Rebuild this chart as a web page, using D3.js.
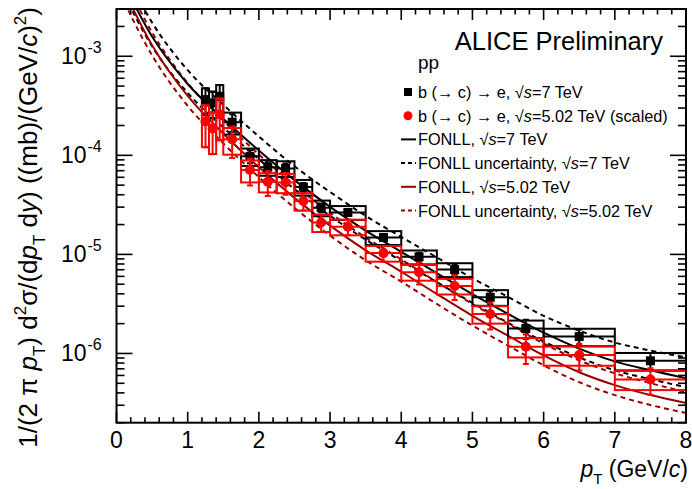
<!DOCTYPE html>
<html>
<head>
<meta charset="utf-8">
<script src="https://cdn.jsdelivr.net/npm/d3@7"></script>
<style>
  body { margin: 0; background: #fff; }
  svg text { font-family: "Liberation Sans", Arial, sans-serif; fill: #000; }
</style>
</head>
<body>
<div id="canvas"></div>
<script>
// bins (pT, GeV/c)
var binLo = [1.2, 1.3, 1.4, 1.5, 1.75, 2, 2.25, 2.5, 2.75, 3, 3.5, 4, 4.5, 5, 5.5, 6, 7];
var binHi = [1.3, 1.4, 1.5, 1.75, 2, 2.25, 2.5, 2.75, 3, 3.5, 4, 4.5, 5, 5.5, 6, 7, 8];

// b(->c)->e cross sections, 7 TeV and 5.02 TeV (scaled)
var val7 = [3.65e-4, 3.38e-4, 3.94e-4, 2.16e-4, 9.76e-5, 7.58e-5, 7.38e-5, 4.78e-5, 2.96e-5, 2.65e-5, 1.48e-5, 9.44e-6, 7.02e-6, 3.69e-6, 1.79e-6, 1.48e-6, 8.43e-7];
var stat7 = [0.3, 0.3, 0.3, 0.2, 0.15, 0.12, 0.12, 0.1, 0.1, 0.08, 0.08, 0.1, 0.12, 0.15, 0.22, 0.18, 0.2];
var sys7 = [0.3, 0.3, 0.3, 0.25, 0.2, 0.18, 0.18, 0.18, 0.18, 0.16, 0.16, 0.16, 0.16, 0.18, 0.2, 0.2, 0.2];
var val502 = [2.2e-4, 1.87e-4, 2.58e-4, 1.45e-4, 7.1e-5, 5.41e-5, 5.32e-5, 3.46e-5, 2.10e-5, 1.90e-5, 1.03e-5, 6.62e-6, 4.80e-6, 2.50e-6, 1.17e-6, 9.64e-7, 5.47e-7];
var stat502 = [0.45, 0.45, 0.45, 0.35, 0.3, 0.28, 0.25, 0.2, 0.2, 0.18, 0.18, 0.25, 0.28, 0.3, 0.33, 0.3, 0.3];
var sys502 = [0.45, 0.45, 0.45, 0.3, 0.25, 0.22, 0.22, 0.2, 0.2, 0.18, 0.18, 0.18, 0.18, 0.2, 0.22, 0.22, 0.22];

// FONLL curves
var fonllPt = [0, 0.5, 1, 1.5, 2, 2.5, 3, 3.5, 4, 4.5, 5, 5.5, 6, 6.5, 7, 7.5, 8];
var fonll7 = [7.59e-3, 1.58e-3, 5.25e-4, 2.34e-4, 1.12e-4, 5.62e-5, 3.02e-5, 1.74e-5, 1.06e-5, 6.46e-6, 3.98e-6, 2.51e-6, 1.62e-6, 1.12e-6, 8.32e-7, 6.76e-7, 5.62e-7];
var fonll7Up = [1.05e-2, 2.19e-3, 7.24e-4, 3.24e-4, 1.55e-4, 7.76e-5, 4.27e-5, 2.45e-5, 1.50e-5, 9.33e-6, 5.75e-6, 3.72e-6, 2.40e-6, 1.70e-6, 1.29e-6, 1.07e-6, 9.12e-7];
var fonll7Lo = [6.03e-3, 1.26e-3, 4.27e-4, 1.91e-4, 9.12e-5, 4.57e-5, 2.45e-5, 1.41e-5, 8.61e-6, 5.25e-6, 3.24e-6, 2.04e-6, 1.32e-6, 9.12e-7, 6.76e-7, 5.50e-7, 4.57e-7];
var fonll502 = [6.76e-3, 1.29e-3, 3.98e-4, 1.66e-4, 7.59e-5, 3.72e-5, 1.95e-5, 1.10e-5, 6.68e-6, 3.98e-6, 2.40e-6, 1.51e-6, 9.55e-7, 6.46e-7, 4.79e-7, 3.80e-7, 3.16e-7];
var fonll502Up = [9.12e-3, 1.74e-3, 5.37e-4, 2.24e-4, 1.02e-4, 5.01e-5, 2.63e-5, 1.48e-5, 8.91e-6, 5.25e-6, 3.16e-6, 2.00e-6, 1.26e-6, 8.51e-7, 6.31e-7, 5.01e-7, 4.07e-7];
var fonll502Lo = [5.13e-3, 1.02e-3, 3.16e-4, 1.32e-4, 6.03e-5, 2.95e-5, 1.55e-5, 8.71e-6, 5.31e-6, 3.16e-6, 1.91e-6, 1.20e-6, 7.59e-7, 5.13e-7, 3.80e-7, 3.02e-7, 2.51e-7];

var xTicks = [0, 1, 2, 3, 4, 5, 6, 7, 8];
var yTicks = [1e-6, 1e-5, 1e-4, 1e-3];

var W = 692, H = 489;
var m = {t: 9, r: 6, b: 66.3, l: 116.5};
var w = W - m.l - m.r, h = H - m.t - m.b;
var darkRed = '#990000';

var svg = d3.select('#canvas').append('svg')
    .attr('width', W).attr('height', H);

var plot = svg.append('g')
    .attr('transform', 'translate(' + m.l + ',' + m.t + ')');

var x = d3.scaleLinear().domain([0, 8]).range([0, w]);
var y = d3.scaleLog().domain([2e-7, 3e-3]).range([h, 0]);

plot.append('clipPath').attr('id', 'clip')
    .append('rect').attr('width', w).attr('height', h);

// FONLL curves
var line = d3.line()
    .x(function(d){ return x(d[0]); })
    .y(function(d){ return y(d[1]); })
    .curve(d3.curveMonotoneX);

var curves = [
    {v: fonll7Up, c: '#000', dash: '5,4'},
    {v: fonll7Lo, c: '#000', dash: '5,4'},
    {v: fonll502Up, c: darkRed, dash: '5,4'},
    {v: fonll502Lo, c: darkRed, dash: '5,4'},
    {v: fonll7, c: '#000', dash: null},
    {v: fonll502, c: darkRed, dash: null}
];
var cg = plot.append('g').attr('clip-path', 'url(#clip)');
curves.forEach(function(cv){
    cg.append('path')
        .attr('d', line(fonllPt.map(function(p, i){ return [p, cv.v[i]]; })))
        .attr('fill', 'none')
        .attr('stroke', cv.c)
        .attr('stroke-width', 2)
        .attr('stroke-dasharray', cv.dash);
});

// data points: boxes (syst), x bars, stat bars, markers
function drawSeries(vals, stat, sys, col, marker) {
    var g = plot.append('g').attr('clip-path', 'url(#clip)');
    vals.forEach(function(v, i){
        var x0 = x(binLo[i]), x1 = x(binHi[i]);
        var xc = x((binLo[i] + binHi[i]) / 2);
        g.append('rect')
            .attr('x', x0).attr('width', x1 - x0)
            .attr('y', y(v * (1 + sys[i])))
            .attr('height', y(v * (1 - sys[i])) - y(v * (1 + sys[i])))
            .attr('fill', 'none').attr('stroke', col).attr('stroke-width', 2);
        g.append('line')
            .attr('x1', x0).attr('x2', x1).attr('y1', y(v)).attr('y2', y(v))
            .attr('stroke', col).attr('stroke-width', 2);
        var yHi = y(v * (1 + stat[i])), yLo = y(v * (1 - stat[i]));
        g.append('line')
            .attr('x1', xc).attr('x2', xc).attr('y1', yHi).attr('y2', yLo)
            .attr('stroke', col).attr('stroke-width', 2);
        [yHi, yLo].forEach(function(yy){
            g.append('line')
                .attr('x1', xc - 3).attr('x2', xc + 3).attr('y1', yy).attr('y2', yy)
                .attr('stroke', col).attr('stroke-width', 2);
        });
        if (marker === 'square') {
            g.append('rect').attr('x', xc - 4.5).attr('y', y(v) - 4.5)
                .attr('width', 9).attr('height', 9).attr('fill', col);
        } else {
            g.append('circle').attr('cx', xc).attr('cy', y(v)).attr('r', 5).attr('fill', col);
        }
    });
}
drawSeries(val7, stat7, sys7, '#000', 'square');
drawSeries(val502, stat502, sys502, '#ff0000', 'circle');

// frame and ticks (all four sides)
plot.append('rect').attr('width', w).attr('height', h)
    .attr('fill', 'none').attr('stroke', '#000').attr('stroke-width', 2);

var tg = plot.append('g').attr('stroke', '#000').attr('stroke-width', 1.6);
d3.range(0, 8.001, 0.2).forEach(function(t){
    var major = Math.abs(t - Math.round(t)) < 1e-6;
    var len = major ? 11 : 5.5;
    tg.append('line').attr('x1', x(t)).attr('x2', x(t)).attr('y1', h).attr('y2', h - len);
    tg.append('line').attr('x1', x(t)).attr('x2', x(t)).attr('y1', 0).attr('y2', len);
});
[1e-7, 1e-6, 1e-5, 1e-4, 1e-3].forEach(function(dec){
    for (var k = 1; k <= 9; k++) {
        var v = dec * k;
        if (v < 2e-7 || v > 3e-3) continue;
        var len = k === 1 ? 16 : 8;
        tg.append('line').attr('x1', 0).attr('x2', len).attr('y1', y(v)).attr('y2', y(v));
        tg.append('line').attr('x1', w).attr('x2', w - len).attr('y1', y(v)).attr('y2', y(v));
    }
});

// tick labels
plot.selectAll('.xl').data(xTicks).enter().append('text')
    .attr('class', 'xl')
    .attr('x', function(d){ return x(d); })
    .attr('y', h + 25)
    .attr('text-anchor', 'middle')
    .style('font-size', '23px')
    .text(function(d){ return d; });

// y labels: "10" right-aligned, exponent placed after it
plot.selectAll('.yl').data(yTicks).enter().append('text')
    .attr('class', 'yl')
    .attr('x', -30)
    .attr('y', function(d){ return y(d) + 8; })
    .attr('text-anchor', 'end')
    .style('font-size', '23px')
    .text('10');
plot.selectAll('.ye').data(yTicks).enter().append('text')
    .attr('class', 'ye')
    .attr('x', -29)
    .attr('y', function(d){ return y(d) - 3; })
    .style('font-size', '16px')
    .text(function(d){ return '-' + Math.round(-Math.log10(d)); });

// axis titles
var xt = svg.append('text')
    .attr('x', 688).attr('y', 477)
    .attr('text-anchor', 'end')
    .style('font-size', '23px');
xt.append('tspan').style('font-style', 'italic').text('p');
xt.append('tspan').attr('dy', 7).style('font-size', '15px').text('T');
xt.append('tspan').attr('dy', -7).text(' (GeV/');
xt.append('tspan').style('font-style', 'italic').text('c');
xt.append('tspan').text(')');

var yt = svg.append('text')
    .attr('transform', 'translate(37,7) rotate(-90)')
    .attr('text-anchor', 'end')
    .style('font-size', '26px');
yt.append('tspan').text('1/(2 \u03c0 ');
yt.append('tspan').style('font-style', 'italic').text('p');
yt.append('tspan').attr('dy', 8).style('font-size', '17px').text('T');
yt.append('tspan').attr('dy', -8).text(') d');
yt.append('tspan').attr('dy', -11).style('font-size', '17px').text('2');
yt.append('tspan').attr('dy', 11).text('\u03c3/(d');
yt.append('tspan').style('font-style', 'italic').text('p');
yt.append('tspan').attr('dy', 8).style('font-size', '17px').text('T');
yt.append('tspan').attr('dy', -8).text(' d');
yt.append('tspan').style('font-style', 'italic').text('y');
yt.append('tspan').text(') ((mb)/(GeV/');
yt.append('tspan').style('font-style', 'italic').text('c');
yt.append('tspan').text(')');
yt.append('tspan').attr('dy', -11).style('font-size', '17px').text('2');
yt.append('tspan').attr('dy', 11).text(')');

// header and legend
svg.append('text').attr('x', 663).attr('y', 50)
    .attr('text-anchor', 'end').style('font-size', '25.5px')
    .text('ALICE Preliminary');
svg.append('text').attr('x', 418).attr('y', 69)
    .style('font-size', '19px').text('pp');

var legendItems = [
    {type: 'square', col: '#000', pre: 'b (\u2192 c) \u2192 e, ', post: '=7 TeV'},
    {type: 'circle', col: '#ff0000', pre: 'b (\u2192 c) \u2192 e, ', post: '=5.02 TeV (scaled)'},
    {type: 'line', col: '#000', pre: 'FONLL, ', post: '=7 TeV'},
    {type: 'dash', col: '#000', pre: 'FONLL uncertainty,  ', post: '=7 TeV'},
    {type: 'line', col: darkRed, pre: 'FONLL, ', post: '=5.02 TeV'},
    {type: 'dash', col: darkRed, pre: 'FONLL uncertainty,  ', post: '=5.02 TeV'}
];
var lg = svg.append('g');
legendItems.forEach(function(it, i){
    var cy = 92 + i * 23.7;
    if (it.type === 'square') {
        lg.append('rect').attr('x', 404).attr('y', cy - 4).attr('width', 8).attr('height', 8).attr('fill', it.col);
    } else if (it.type === 'circle') {
        lg.append('circle').attr('cx', 408).attr('cy', cy).attr('r', 4.5).attr('fill', it.col);
    } else {
        lg.append('line').attr('x1', 401).attr('x2', 416).attr('y1', cy).attr('y2', cy)
            .attr('stroke', it.col).attr('stroke-width', 2)
            .attr('stroke-dasharray', it.type === 'dash' ? '4,3' : null);
    }
    var t = lg.append('text').attr('x', 418).attr('y', cy + 6).style('font-size', '16.3px');
    t.append('tspan').text(it.pre + '\u221a');
    t.append('tspan').style('font-style', 'italic').text('s');
    t.append('tspan').text(it.post);
});
</script>
</body>
</html>
